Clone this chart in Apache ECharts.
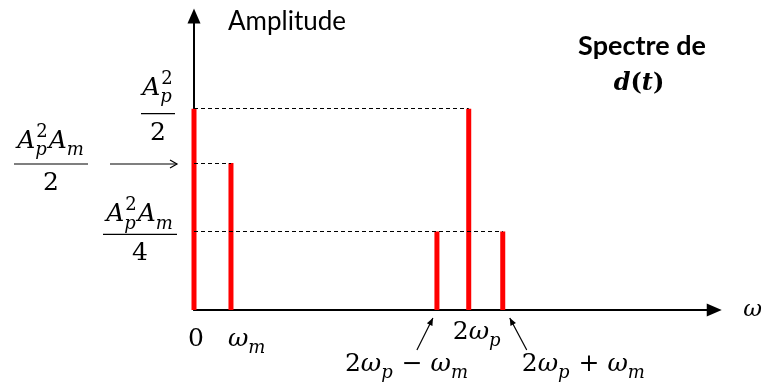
<!DOCTYPE html>
<html><head><meta charset="utf-8">
<script src="https://cdn.jsdelivr.net/npm/echarts@6/dist/echarts.min.js"></script>
<style>html,body{margin:0;padding:0;background:#fff}#chart{width:765px;height:390px}</style>
</head><body><div id="chart"></div>
<script>
// Spectral lines of d(t): position on the ω axis, tick text and amplitude
const freqTicks  = ['0', 'ω_m', '2ω_p − ω_m', '2ω_p', '2ω_p + ω_m'];
const freqPos    = [0, 1, 6.57, 7.43, 8.35];
const amplitudes = [1, 0.73, 0.39, 1, 0.39];

// Amplitude levels written on the vertical axis (numerator / denominator)
const levelValues = [1, 0.73, 0.39];
const levelNum    = ['A_p^2', 'A_p^2A_m', 'A_p^2A_m'];
const levelDen    = ['2', '2', '4'];
// each dashed guide runs from the vertical axis to this line
const guideEnds   = [7.43, 1, 8.35];

const xMax = 14.07, yMax = 1.46;

const MATH = "'DejaVu Serif', serif";
const TEXT = "Lato, 'Open Sans', sans-serif";
const measureCtx = document.createElement('canvas').getContext('2d');
function fontOf(size, italic, bold) {
  return (italic ? 'italic ' : '') + (bold ? 'bold ' : '') + size + 'px ' + MATH;
}
function measure(t, font) { measureCtx.font = font; return measureCtx.measureText(t).width; }

// "2ω_p − ω_m" -> items with optional sub/superscripts
function parseMath(src) {
  const items = [];
  for (let i = 0; i < src.length; i++) {
    const c = src[i];
    if ((c === '_' || c === '^') && items.length) {
      items[items.length - 1][c === '_' ? 'sub' : 'sup'] = src[++i];
      continue;
    }
    items.push({ t: c, it: /[A-Za-z\u03b1-\u03c9]/.test(c) });
  }
  return items;
}
function txt(t, x, base, size, font) {
  return { type: 'text', x: x, y: base - 0.3 * size, silent: true,
    style: { text: t, font: font, fill: '#000', verticalAlign: 'middle', align: 'left' } };
}
function mathRun(src, left, base, size, bold) {
  const els = []; let x = left;
  for (const it of parseMath(src)) {
    const f = fontOf(size, it.it, bold);
    els.push(txt(it.t, x, base, size, f));
    x += measure(it.t, f);
    if (it.sub || it.sup) {
      const ss = Math.round(size * 0.72); let w = 0;
      if (it.sup) {
        const sf = fontOf(ss, /[A-Za-z]/.test(it.sup), bold);
        els.push(txt(it.sup, x + 1, base - size * 0.45, ss, sf));
        w = Math.max(w, measure(it.sup, sf) + 1);
      }
      if (it.sub) {
        const sf = fontOf(ss, /[A-Za-z]/.test(it.sub), bold);
        els.push(txt(it.sub, x, base + size * 0.28, ss, sf));
        w = Math.max(w, measure(it.sub, sf));
      }
      x += w + 1;
    }
  }
  return { els: els, width: x - left };
}

const chart = echarts.init(document.getElementById('chart'), null, { renderer: 'canvas' });

const axisCommon = {
  type: 'value',
  axisLine: { show: true, lineStyle: { color: '#000', width: 2 },
              symbol: ['none', 'triangle'], symbolSize: [13, 15] },
  axisTick: { show: false }, axisLabel: { show: false }, splitLine: { show: false }
};

chart.setOption({
  animation: false,
  backgroundColor: '#fff',
  grid: { left: 194, right: 49.5, top: 16, bottom: 80 },
  xAxis: Object.assign({}, axisCommon, { min: 0, max: xMax, name: 'ω', nameGap: 29,
    nameTextStyle: { fontFamily: MATH, fontStyle: 'italic', fontSize: 23, color: '#000',
                     verticalAlign: 'middle', padding: [0, 0, 4, 0] } }),
  yAxis: Object.assign({}, axisCommon, { min: 0, max: yMax }),
  series: [{
    type: 'bar',
    clip: false,
    barWidth: 5,
    itemStyle: { color: '#ff0000' },
    data: freqPos.map((x, i) => [x, amplitudes[i]]),
    z: 3,
    markLine: {
      silent: true, symbol: 'none', label: { show: false },
      lineStyle: { color: '#000', width: 1, type: [4, 3] },
      data: levelValues.map((v, i) => [{ coord: [0, v] }, { coord: [guideEnds[i], v] }])
    }
  }]
});

function px(x, y) { return chart.convertToPixel({ xAxisIndex: 0, yAxisIndex: 0 }, [x, y]); }

const g = [];
const MS = 25;
const origin = px(0, 0);

// fraction labels beside the vertical axis: [centre dx, fraction-bar dy, bar width, numerator lift]
const fracLayout = [[-36, 5, 34, 18], [-143, 1, 74, 15], [-54, 3, 74, 12]];
levelValues.forEach((v, i) => {
  const p = px(0, v);
  const L = fracLayout[i];
  const cx = p[0] + L[0], ly = p[1] + L[1];
  const num = mathRun(levelNum[i], 0, 0, MS, false);
  mathRun(levelNum[i], cx - num.width / 2, ly - L[3], MS, false).els.forEach(e => g.push(e));
  const den = mathRun(levelDen[i], 0, 0, MS, false);
  mathRun(levelDen[i], cx - den.width / 2, ly + 27, MS, false).els.forEach(e => g.push(e));
  g.push({ type: 'line', silent: true, shape: { x1: cx - L[2] / 2, y1: ly, x2: cx + L[2] / 2, y2: ly },
           style: { stroke: '#000', lineWidth: 1.2 } });
});

// pointer from the A_p²A_m/2 label to its level on the axis
(function () {
  const p = px(0, levelValues[1]);
  const y = p[1] + 1, x2 = p[0] - 17, x1 = p[0] - 84;
  g.push({ type: 'line', silent: true, shape: { x1: x1, y1: y, x2: x2, y2: y },
           style: { stroke: '#000', lineWidth: 1.2 } });
  g.push({ type: 'polyline', silent: true, shape: { points: [[x2 - 7, y - 4], [x2, y], [x2 - 7, y + 4]] },
           style: { stroke: '#000', lineWidth: 1.2, fill: null } });
})();

// frequency tick labels: [left dx from the line, baseline dy below the axis]
const tickLayout = [[-6, 37], [-3, 37], [-92, 62], [-16, 30], [19, 62]];
freqTicks.forEach((t, i) => {
  const p = px(freqPos[i], 0);
  mathRun(t, p[0] + tickLayout[i][0], origin[1] + tickLayout[i][1], MS, false).els.forEach(e => g.push(e));
});

// small arrows pointing at the two side lines
function pointer(tail, tip) {
  const ang = Math.atan2(tip[1] - tail[1], tip[0] - tail[0]);
  const a1 = ang + Math.PI - 0.4, a2 = ang + Math.PI + 0.4, h = 8;
  g.push({ type: 'line', silent: true, shape: { x1: tail[0], y1: tail[1], x2: tip[0], y2: tip[1] },
           style: { stroke: '#000', lineWidth: 1.2 } });
  g.push({ type: 'polygon', silent: true,
           shape: { points: [tip, [tip[0] + h * Math.cos(a1), tip[1] + h * Math.sin(a1)],
                             [tip[0] + h * Math.cos(a2), tip[1] + h * Math.sin(a2)]] },
           style: { fill: '#000' } });
}
(function () {
  const l = px(freqPos[2], 0), r = px(freqPos[4], 0);
  pointer([l[0] - 20, l[1] + 40], [l[0] - 4, l[1] + 8]);
  pointer([r[0] + 24, r[1] + 40], [r[0] + 7, r[1] + 8]);
})();

// axis caption and panel title
g.push({ type: 'text', x: origin[0] + 34, y: 22, silent: true,
         style: { text: 'Amplitude', font: '26px ' + TEXT, fill: '#000', verticalAlign: 'middle' } });
g.push({ type: 'text', x: 642, y: 46, silent: true,
         style: { text: 'Spectre de', font: 'bold 27px ' + TEXT, fill: '#000', align: 'center', verticalAlign: 'middle' } });
(function () {
  const w = mathRun('d(t)', 0, 0, 24, true).width;
  mathRun('d(t)', 639 - w / 2, 91, 24, true).els.forEach(e => g.push(e));
})();

chart.setOption({ graphic: { elements: g } });
</script>
</body></html>
